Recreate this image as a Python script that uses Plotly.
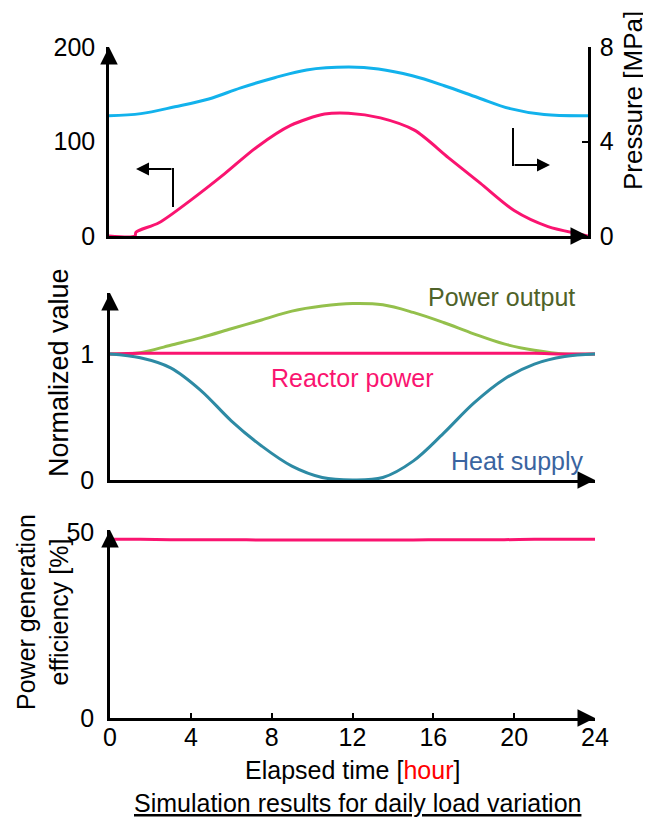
import plotly.graph_objects as go

# ---- data ----
# top panel: curve on the left axis and pressure on the right axis
top_hours = [0, 1.3, 1.35, 2.5, 4.1, 5.8, 7.4, 9.1, 10.8, 12, 13.6, 15.3, 17.0, 18.6, 20.3, 22.0, 23.6, 24]
top_left_vals = [0, 0, 4, 14, 38, 66, 94, 117, 129, 130, 125, 112, 83, 56, 27, 10, 2, 0]

press_hours = [0, 1.6, 3.3, 5.0, 6.6, 8.3, 9.9, 12, 13.5, 15.2, 16.8, 18.5, 20.1, 21.8, 24]
pressure_mpa = [5.09, 5.18, 5.47, 5.8, 6.27, 6.7, 7.03, 7.15, 7.07, 6.78, 6.36, 5.85, 5.39, 5.14, 5.09]

# middle panel: normalized values
hours = [0, 1.5, 3, 4.5, 6, 7.5, 9, 10.5, 12, 13.5, 15, 16.5, 18, 19.5, 21, 22.5, 24]
power_output = [1.0, 1.01, 1.07, 1.13, 1.20, 1.27, 1.34, 1.38, 1.40, 1.39, 1.33, 1.25, 1.16, 1.08, 1.03, 1.0, 1.0]
reactor_power = [1.0, 1.005, 1.005, 1.005, 1.005, 1.005, 1.005, 1.005, 1.005, 1.005, 1.005, 1.005, 1.005, 1.005, 1.005, 1.0, 1.0]
heat_supply = [1.0, 0.97, 0.89, 0.71, 0.47, 0.27, 0.11, 0.02, 0.0, 0.02, 0.15, 0.37, 0.61, 0.80, 0.92, 0.98, 1.0]

# bottom panel: power generation efficiency [%]
efficiency = [48.0, 48.0, 47.9, 47.9, 47.9, 47.8, 47.8, 47.8, 47.8, 47.8, 47.8, 47.9, 47.9, 47.9, 48.0, 48.0, 48.0]

x_ticks = [0, 4, 8, 12, 16, 20, 24]

MAGENTA = "#fa1470"
CYAN = "#12b2ec"
GREEN = "#94c04c"
TEAL = "#2d8aa4"
FONT = "Arial, Liberation Sans, sans-serif"

# the page body adds an 8px margin, so the figure is shifted by 8px
OFF = 8
W, H = 651 - OFF, 821 - OFF


def px(x):
    return (x - OFF) / W


def py(y):
    return 1 - (y - OFF) / H


fig = go.Figure()

fig.add_trace(go.Scatter(x=top_hours, y=top_left_vals, mode="lines", xaxis="x", yaxis="y",
                         line=dict(color=MAGENTA, width=3, shape="spline", smoothing=0.8)))
fig.add_trace(go.Scatter(x=press_hours, y=pressure_mpa, mode="lines", xaxis="x", yaxis="y2",
                         line=dict(color=CYAN, width=3, shape="spline", smoothing=1)))

fig.add_trace(go.Scatter(x=hours, y=power_output, mode="lines", xaxis="x2", yaxis="y3",
                         line=dict(color=GREEN, width=3, shape="spline", smoothing=1)))
fig.add_trace(go.Scatter(x=hours, y=reactor_power, mode="lines", xaxis="x2", yaxis="y3",
                         line=dict(color=MAGENTA, width=3, shape="spline", smoothing=1)))
fig.add_trace(go.Scatter(x=hours, y=heat_supply, mode="lines", xaxis="x2", yaxis="y3",
                         line=dict(color=TEAL, width=3, shape="spline", smoothing=1)))

fig.add_trace(go.Scatter(x=hours, y=efficiency, mode="lines", xaxis="x3", yaxis="y4",
                         line=dict(color=MAGENTA, width=3, shape="spline", smoothing=1)))

axis_common = dict(showgrid=False, zeroline=False, showline=True, linecolor="black", linewidth=2.5,
                   automargin=False, tickfont=dict(family=FONT, size=25, color="black"))

top_dom = [py(236), py(47)]
mid_dom = [py(480), py(293)]
bot_dom = [py(718), py(530)]

fig.update_layout(
    width=W, height=H, margin=dict(l=0, r=0, t=0, b=0, pad=0, autoexpand=False),
    paper_bgcolor="white", plot_bgcolor="white", showlegend=False,
    font=dict(family=FONT, size=25, color="black"),
    xaxis=dict(domain=[px(109), px(588)], range=[0, 24], anchor="y", showticklabels=False, ticks="",
               **axis_common),
    yaxis=dict(domain=top_dom, range=[0, 200], anchor="x", tickvals=[0, 100, 200], ticks="",
               ticklabelstandoff=6, **axis_common),
    yaxis2=dict(range=[0, 8], overlaying="y", side="right", anchor="x", tickvals=[0, 4, 8],
                ticks="inside", ticklen=6, tickwidth=2, tickcolor="black", ticklabelstandoff=4,
                **axis_common),
    xaxis2=dict(domain=[px(110), px(595)], range=[0, 24], anchor="y3", showticklabels=False, ticks="",
                **axis_common),
    yaxis3=dict(domain=mid_dom, range=[0, 1.484], anchor="x2", tickvals=[0, 1], ticks="",
                ticklabelstandoff=8, **axis_common),
    xaxis3=dict(domain=[px(110), px(595)], range=[0, 24], anchor="y4", tickvals=x_ticks,
                ticks="inside", ticklen=5, tickwidth=2, tickcolor="black", ticklabelstandoff=-5,
                **axis_common),
    yaxis4=dict(domain=bot_dom, range=[0, 50.5], anchor="x3", tickvals=[0, 50], ticks="",
                ticklabelstandoff=8, **axis_common),
)

ann = []
# arrowheads on the axes
for xa, ya, ymax in [("x", "y", 200), ("x2", "y3", 1.484), ("x3", "y4", 50.5)]:
    ann.append(dict(x=0, y=ymax, xref=xa, yref=ya, text="", showarrow=True, ax=0, ay=14,
                    arrowhead=2, arrowsize=1.4, arrowwidth=2.5, arrowcolor="black"))
    ann.append(dict(x=24, y=0, xref=xa, yref=ya, text="", showarrow=True, ax=-14, ay=0,
                    arrowhead=2, arrowsize=1.4, arrowwidth=2.5, arrowcolor="black"))

# bent arrows pointing to the axes in the top panel
ann.append(dict(x=px(136), y=py(169), xref="paper", yref="paper", text="", showarrow=True,
                ax=37, ay=0, arrowhead=2, arrowsize=1.3, arrowwidth=2, arrowcolor="black"))
ann.append(dict(x=px(550), y=py(165), xref="paper", yref="paper", text="", showarrow=True,
                ax=-37, ay=0, arrowhead=2, arrowsize=1.3, arrowwidth=2, arrowcolor="black"))


def label(x, y, text, size=25, color="black", angle=0):
    return dict(x=px(x), y=py(y), xref="paper", yref="paper", text=text, showarrow=False,
                xanchor="center", yanchor="middle", textangle=angle,
                font=dict(family=FONT, size=size, color=color))


# series labels
ann.append(label(501, 297, "Power output", color="#4f6228"))
ann.append(label(352, 378, "Reactor power", color=MAGENTA))
ann.append(label(517, 461, "Heat supply", color="#3a64a0"))

# axis titles
ann.append(label(59, 373, "Normalized value", size=27, angle=-90))
ann.append(label(42, 612, "Power generation<br>efficiency [%]", angle=-90))
ann.append(label(633, 101, "Pressure [MPa]", size=26, angle=-90))
ann.append(label(352, 770, "Elapsed time [<span style='color:red'>hour</span>]"))
ann.append(label(357, 803, "<u>Simulation results for daily load variation</u>"))

fig.update_layout(annotations=ann)

fig.add_shape(type="line", xref="paper", yref="paper", x0=px(173), y0=py(207), x1=px(173), y1=py(168),
              line=dict(color="black", width=2))
fig.add_shape(type="line", xref="paper", yref="paper", x0=px(513), y0=py(128), x1=px(513), y1=py(166),
              line=dict(color="black", width=2))

fig.write_html("out.html")
